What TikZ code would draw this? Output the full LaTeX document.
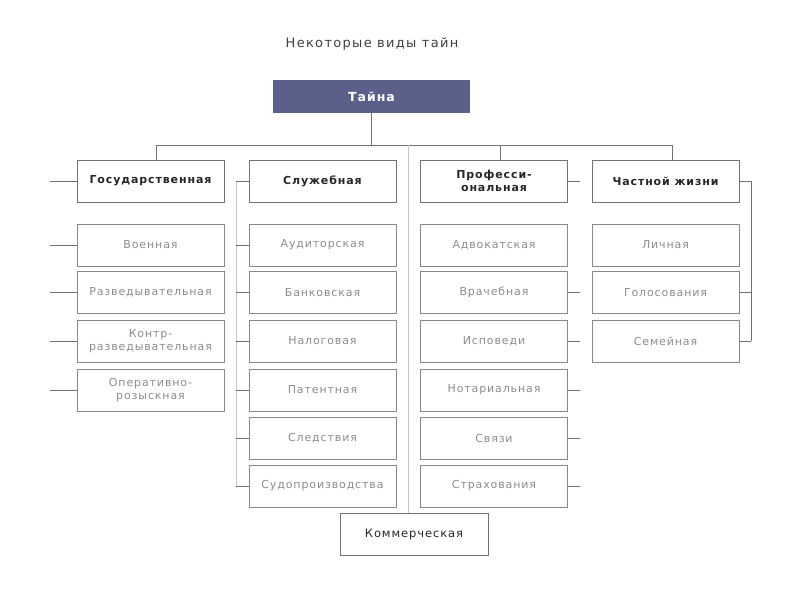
\documentclass[tikz,border=0pt]{standalone}
\usepackage{fontspec}
\setmainfont{DejaVu Sans}[LetterSpace=8]
\newfontfamily\titlefont{DejaVu Sans}[LetterSpace=10]
\usetikzlibrary{calc}
\definecolor{tainablue}{RGB}{91,96,138}
\definecolor{boxgray}{RGB}{115,115,115}
\definecolor{itemgray}{RGB}{140,140,140}
\begin{document}
\begin{tikzpicture}[x=1pt, y=-1pt,
    head/.style={draw=boxgray, minimum width=147pt, minimum height=42pt, inner sep=0pt,
        align=center, text=black!85, font=\fontsize{11}{12.5}\selectfont\bfseries},
    item/.style={draw=boxgray!85, minimum width=147pt, minimum height=42pt, inner sep=0pt,
        align=center, text=itemgray, font=\fontsize{11}{13}\selectfont},
    link/.style={draw=boxgray, line width=0.7pt},
    faint/.style={draw=gray!45, line width=0.7pt}]
    \useasboundingbox (0,0) rectangle (800,600);
    \node[text=black!75, font=\titlefont\fontsize{13}{15}\selectfont] (title) at (372,44) {Некоторые виды тайн};
    \node[fill=tainablue, minimum width=197pt, minimum height=33pt, inner sep=0pt,
        text=white, font=\fontsize{12.5}{14}\selectfont\bfseries] (taina) at (371.5,96.5) {Тайна};
    % headers
    \node[head] (gos) at (150.5,181) {Государственная};
    \node[head] (sluzh) at (322.5,181) {Служебная};
    \node[head] (prof) at (494,181) {Професси-\\ональная};
    \node[head] (chast) at (665.5,181) {Частной жизни};
    % state
    \node[item] (gos1) at (150.5,245) {Военная};
    \node[item] (gos2) at (150.5,292.5) {Разведывательная};
    \node[item] (gos3) at (150.5,341) {Контр-\\разведывательная};
    \node[item] (gos4) at (150.5,390) {Оперативно-\\розыскная};
    % service
    \node[item] (sl1) at (322.5,245) {Аудиторская};
    \node[item] (sl2) at (322.5,292.5) {Банковская};
    \node[item] (sl3) at (322.5,341) {Налоговая};
    \node[item] (sl4) at (322.5,390) {Патентная};
    \node[item] (sl5) at (322.5,438) {Следствия};
    \node[item] (sl6) at (322.5,486) {Судопроизводства};
    % professional
    \node[item] (pr1) at (494,245) {Адвокатская};
    \node[item] (pr2) at (494,292.5) {Врачебная};
    \node[item] (pr3) at (494,341) {Исповеди};
    \node[item] (pr4) at (494,390) {Нотариальная};
    \node[item] (pr5) at (494,438) {Связи};
    \node[item] (pr6) at (494,486) {Страхования};
    % private life
    \node[item] (ch1) at (665.5,245) {Личная};
    \node[item] (ch2) at (665.5,292.5) {Голосования};
    \node[item] (ch3) at (665.5,341) {Семейная};
    \node[head, minimum width=148pt, font=\fontsize{11.5}{13}\selectfont] (komm) at (414,534) {Коммерческая};
    % bus
    \coordinate (busL) at (156,145);
    \coordinate (busP) at (500,145);
    \coordinate (busM) at (408,145);
    \coordinate (busR) at (672,145);
    \draw[link] (taina.south) -- (taina.south |- busL);
    \draw[link] (busL) -- (busR);
    \draw[link] (busL) -- (busL |- gos.north);
    \draw[link] (busP) -- (busP |- prof.north);
    \draw[link] (busR) -- (busR |- chast.north);
    \draw[faint] (busM) -- (busM |- komm.north);
    % side ticks
    \foreach \n in {gos, gos1, gos2, gos3, gos4}
        \draw[link] (\n.west) -- ++(-27,0);
    \coordinate (sl0) at (236,181);
    \draw[faint] (sl0) -- (sl0 |- sl6.west);
    \foreach \n in {sluzh, sl1, sl2, sl3, sl4, sl5, sl6}
        \draw[link] (\n.west) -- (\n.west -| sl0);
    \foreach \n in {prof, pr2, pr3, pr4, pr5, pr6}
        \draw[link] (\n.east) -- ++(12,0);
    \coordinate (ch0) at (751,181);
    \draw[link] (ch0) -- (ch0 |- ch3.east);
    \foreach \n in {chast, ch2, ch3}
        \draw[link] (\n.east) -- (\n.east -| ch0);
\end{tikzpicture}
\end{document}
